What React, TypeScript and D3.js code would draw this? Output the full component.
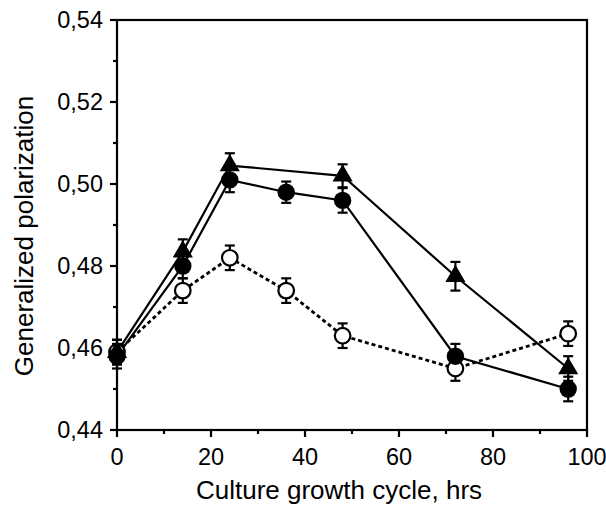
import React from 'react';
import * as d3 from 'd3';

const hours = [0, 14, 24, 36, 48, 72, 96];
const triangleHours = [0, 14, 24, 48, 72, 96];
const triangleValues = [0.459, 0.4835, 0.5045, 0.502, 0.4775, 0.455];
const filledValues = [0.458, 0.48, 0.501, 0.498, 0.496, 0.458, 0.45];
const openValues = [0.459, 0.474, 0.482, 0.474, 0.463, 0.455, 0.4635];
const triangleErr = [0.003, 0.003, 0.003, 0.0028, 0.0035, 0.003];
const filledErr = [0.003, 0.003, 0.003, 0.0026, 0.003, 0.003, 0.003];
const openErr = [0.003, 0.003, 0.003, 0.003, 0.003, 0.003, 0.003];

const xTicks = [0, 20, 40, 60, 80, 100];
const xMinor = [10, 30, 50, 70, 90];
const yTicks = [0.44, 0.46, 0.48, 0.5, 0.52, 0.54];
const yMinor = [0.45, 0.47, 0.49, 0.51, 0.53];

const font = '"Liberation Sans", Arial, Helvetica, sans-serif';

const App = () => {
  const width = 606;
  const height = 505;
  const left = 117, right = 587, top = 20, bottom = 430;

  const x = d3.scaleLinear().domain([0, 100]).range([left, right]);
  const y = d3.scaleLinear().domain([0.44, 0.54]).range([bottom, top]);
  const fmt = (v: number) => d3.format('.2f')(v).replace('.', ',');

  const line = d3.line<[number, number]>()
    .x(d => x(d[0]))
    .y(d => y(d[1]));

  const tri = d3.symbol().type(d3.symbolTriangle).size(175)();

  const errBars = (xs: number[], vs: number[], es: number[], key: string) =>
    xs.map((h, i) => {
      const cx = x(h);
      const y1 = y(vs[i] + es[i]);
      const y2 = y(vs[i] - es[i]);
      return (
        <g key={key + i} stroke="#000" strokeWidth={2.2}>
          <line x1={cx} x2={cx} y1={y1} y2={y2} />
          <line x1={cx - 5} x2={cx + 5} y1={y1} y2={y1} />
          <line x1={cx - 5} x2={cx + 5} y1={y2} y2={y2} />
        </g>
      );
    });

  return (
    <svg width={width} height={height} style={{ position: 'absolute', left: 0, top: 0 }}>
      <rect width={width} height={height} fill="#fff" />

      {/* frame */}
      <rect x={left} y={top} width={right - left} height={bottom - top}
        fill="none" stroke="#000" strokeWidth={2.2} />

      {/* y axis ticks */}
      {yTicks.map(t => (
        <g key={'yt' + t}>
          <line x1={left - 7} x2={left} y1={y(t)} y2={y(t)} stroke="#000" strokeWidth={2.2} />
          <text x={left - 14} y={y(t)} dy="0.36em" textAnchor="end"
            fontFamily={font} fontSize={23.5}>{fmt(t)}</text>
        </g>
      ))}
      {yMinor.map(t => (
        <line key={'ym' + t} x1={left - 4} x2={left} y1={y(t)} y2={y(t)} stroke="#000" strokeWidth={2.2} />
      ))}

      {/* x axis ticks */}
      {xTicks.map(t => (
        <g key={'xt' + t}>
          <line x1={x(t)} x2={x(t)} y1={bottom} y2={bottom + 7} stroke="#000" strokeWidth={2.2} />
          <text x={x(t)} y={465} textAnchor="middle"
            fontFamily={font} fontSize={23.5}>{t}</text>
        </g>
      ))}
      {xMinor.map(t => (
        <line key={'xm' + t} x1={x(t)} x2={x(t)} y1={bottom} y2={bottom + 4} stroke="#000" strokeWidth={2.2} />
      ))}

      {/* axis titles */}
      <text x={339} y={499} textAnchor="middle"
        fontFamily={font} fontSize={26}>Culture growth cycle, hrs</text>
      <text transform="translate(33,236) rotate(-90)" textAnchor="middle"
        fontFamily={font} fontSize={26}>Generalized polarization</text>

      {/* lines */}
      <path d={line(hours.map((h, i) => [h, openValues[i]]) as any) || ''}
        fill="none" stroke="#000" strokeWidth={2.8} strokeDasharray="4,3" />
      <path d={line(hours.map((h, i) => [h, filledValues[i]]) as any) || ''}
        fill="none" stroke="#000" strokeWidth={2.2} />
      <path d={line(triangleHours.map((h, i) => [h, triangleValues[i]]) as any) || ''}
        fill="none" stroke="#000" strokeWidth={2.2} />

      {/* error bars */}
      {errBars(hours, openValues, openErr, 'eo')}
      {errBars(hours, filledValues, filledErr, 'ef')}
      {errBars(triangleHours, triangleValues, triangleErr, 'et')}

      {/* markers */}
      {hours.map((h, i) => (
        <circle key={'o' + i} cx={x(h)} cy={y(openValues[i])} r={7.8}
          fill="#fff" stroke="#000" strokeWidth={2.2} />
      ))}
      {hours.map((h, i) => (
        <circle key={'f' + i} cx={x(h)} cy={y(filledValues[i])} r={8.7} fill="#000" />
      ))}
      {triangleHours.map((h, i) => (
        <path key={'t' + i} d={tri || ''} fill="#000"
          transform={`translate(${x(h)},${y(triangleValues[i])})`} />
      ))}
    </svg>
  );
};

export default App;
